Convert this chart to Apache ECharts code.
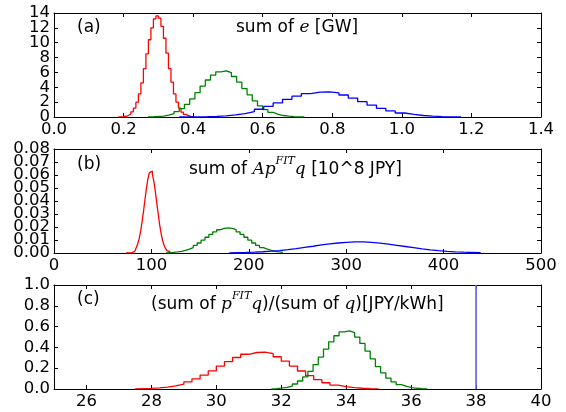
<!DOCTYPE html>
<html><head><meta charset="utf-8">
<script src="https://cdn.jsdelivr.net/npm/echarts@6/dist/echarts.min.js"></script>
<style>html,body{margin:0;padding:0;background:#fff}#c{width:566px;height:412px}</style>
</head><body><div id="c"></div>
<script>
// ---- Panel (a): sum of e [GW] ----
const redA_start = 0.185, redA_width = 0.0072;
const redA = [0.02,0.05,0.1,0.2,0.4,0.7,1.2,2.0,3.1,4.6,6.5,8.5,10.4,12.0,13.2,13.6,13.3,12.2,10.6,8.6,6.5,4.7,3.1,2.0,1.2,0.65,0.35,0.17,0.08,0.03];
const greenA_start = 0.27, greenA_width = 0.015;
const greenA = [0.03,0.07,0.13,0.25,0.44,0.73,1.14,1.7,2.43,3.28,4.16,4.98,5.65,6.08,6.2,5.98,5.45,4.7,3.83,2.98,2.17,1.5,0.99,0.62,0.36,0.2,0.11,0.05,0.02,0.01];
const blueA_start = 0.36, blueA_width = 0.027;
const blueA = [0.01,0.02,0.05,0.09,0.16,0.28,0.46,0.71,1.04,1.44,1.89,2.38,2.81,3.15,3.36,3.39,3.25,2.96,2.55,2.06,1.6,1.17,0.82,0.54,0.34,0.2,0.11,0.06,0.03,0.01];

// ---- Panel (b): sum of Ap^FIT q [10^8 JPY] ----
const redB_start = 74, redB_width = 1.5;
const redB = [0.00002,0.00006,0.00013,0.0003,0.0006,0.0013,0.0023,0.0042,0.0071,0.0112,0.017,0.0243,0.0326,0.0417,0.0503,0.0573,0.0618,0.0630,0.0605,0.0553,0.0476,0.0386,0.030,0.0217,0.0149,0.0096,0.006,0.0035,0.0019,0.001];
const greenB_start = 115, greenB_width = 4;
const greenB = [0.0003,0.0005,0.0008,0.0013,0.002,0.003,0.0042,0.0058,0.0077,0.0099,0.0121,0.0143,0.0163,0.0179,0.019,0.0193,0.019,0.0179,0.0163,0.0143,0.0121,0.0099,0.0077,0.0058,0.0042,0.003,0.002,0.0013,0.0008,0.0005];
const blueB_start = 180, blueB_width = 8.6;
const blueB = [0.00026,0.00042,0.00064,0.00096,0.0014,0.0019,0.0026,0.0034,0.0043,0.0052,0.0062,0.007,0.0077,0.0082,0.0085,0.0085,0.0081,0.0076,0.0068,0.0059,0.005,0.0041,0.0032,0.0024,0.0018,0.0013,0.0009,0.0006,0.0004,0.0002];

// ---- Panel (c): (sum of p^FIT q)/(sum of q) [JPY/kWh] ----
const redC_start = 27.5, redC_width = 0.25;
const redC = [0.003,0.006,0.011,0.018,0.030,0.046,0.069,0.098,0.133,0.174,0.22,0.264,0.303,0.334,0.351,0.354,0.34,0.31,0.268,0.22,0.173,0.128,0.09,0.06,0.038,0.023,0.013,0.007,0.004,0.002];
const greenC_start = 31.7, greenC_width = 0.16;
const greenC = [0.004,0.009,0.016,0.028,0.048,0.077,0.117,0.17,0.235,0.307,0.383,0.454,0.512,0.549,0.56,0.543,0.499,0.438,0.364,0.289,0.216,0.156,0.105,0.068,0.042,0.025,0.014,0.007,0.004,0.002];
const blueC_value = 38;

// Axis ticks
const xTicksA = [0,0.2,0.4,0.6,0.8,1.0,1.2,1.4];
const yTicksA = [0,2,4,6,8,10,12,14];
const xTicksB = [0,100,200,300,400,500];
const yTicksB = [0,0.01,0.02,0.03,0.04,0.05,0.06,0.07,0.08];
const xTicksC = [26,28,30,32,34,36,38,40];
const yTicksC = [0,0.2,0.4,0.6,0.8,1.0];

function histPoints(start, width, vals) {
  const pts = [[start, 0]];
  for (let i = 0; i < vals.length; i++) pts.push([start + i * width, vals[i]]);
  pts.push([start + vals.length * width, 0]);
  return pts;
}

const FONT = 'DejaVu Sans';
const tops = [13, 149, 285];
const grids = tops.map(t => ({left: 54, right: 25, top: t, height: 104, containLabel: false}));

function mkLab(ticks, dec) {
  return {show: true, color: '#000', fontFamily: FONT, fontSize: 16.5, margin: 4,
    showMinLabel: true, showMaxLabel: true, hideOverlap: false,
    customValues: ticks, formatter: v => (+v).toFixed(dec)};
}
function xAxes(gi, min, max, ticks, dec) {
  const common = {type: 'value', gridIndex: gi, min: min, max: max,
    splitLine: {show: false},
    axisLine: {show: true, onZero: false, lineStyle: {color: '#000', width: 1}},
    axisTick: {show: true, inside: true, length: 4, customValues: ticks, lineStyle: {color: '#000'}}};
  return [
    Object.assign({}, common, {position: 'bottom', axisLabel: mkLab(ticks, dec)}),
    Object.assign({}, common, {position: 'top', axisLabel: {show: false}})
  ];
}
// Y labels overlap in the reference; split them over two coincident left axes
// so ECharts does not drop neighbours of the min/max labels.
function yAxes(gi, min, max, ticks, dec) {
  const common = {type: 'value', gridIndex: gi, min: min, max: max,
    splitLine: {show: false},
    axisLine: {show: true, onZero: false, lineStyle: {color: '#000', width: 1}},
    axisTick: {show: true, inside: true, length: 4, customValues: ticks, lineStyle: {color: '#000'}}};
  const evenT = ticks.filter((t, i) => i % 2 === 0);
  const oddT = ticks.filter((t, i) => i % 2 === 1);
  return [
    Object.assign({}, common, {position: 'left', axisLabel: mkLab(evenT, dec)}),
    Object.assign({}, common, {position: 'right', axisLabel: {show: false}}),
    Object.assign({}, common, {position: 'left', offset: 0, axisLine: {show: false}, axisTick: {show: false},
      axisLabel: mkLab(oddT, dec)})
  ];
}

const xAxis = [].concat(
  xAxes(0, 0, 1.4, xTicksA, 1),
  xAxes(1, 0, 500, xTicksB, 0),
  xAxes(2, 25, 40, xTicksC, 0));
const yAxis = [].concat(
  yAxes(0, 0, 14, yTicksA, 0),
  yAxes(1, 0, 0.08, yTicksB, 2),
  yAxes(2, 0, 1.0, yTicksC, 1));

function hist(gi, pts, color) {
  return {type: 'line', xAxisIndex: gi * 2, yAxisIndex: gi * 3, data: pts, step: 'end',
    showSymbol: false, symbol: 'none', silent: true, animation: false,
    lineStyle: {color: color, width: 1.3}};
}
const RED = '#ff0000', GREEN = '#008000', BLUE = '#0000ff';
const series = [
  hist(0, histPoints(redA_start, redA_width, redA), RED),
  hist(0, histPoints(greenA_start, greenA_width, greenA), GREEN),
  hist(0, histPoints(blueA_start, blueA_width, blueA), BLUE),
  hist(1, histPoints(redB_start, redB_width, redB), RED),
  hist(1, histPoints(greenB_start, greenB_width, greenB), GREEN),
  hist(1, histPoints(blueB_start, blueB_width, blueB), BLUE),
  hist(2, histPoints(redC_start, redC_width, redC), RED),
  hist(2, histPoints(greenC_start, greenC_width, greenC), GREEN),
  {type: 'line', xAxisIndex: 4, yAxisIndex: 6, data: [[blueC_value, 0], [blueC_value, 1.0]],
   showSymbol: false, symbol: 'none', silent: true, animation: false,
   lineStyle: {color: '#5a5af0', width: 1.6}}
];

const rich = {
  n: {fontFamily: FONT, fontSize: 17, color: '#000', lineHeight: 28},
  m: {fontFamily: 'DejaVu Serif', fontStyle: 'italic', fontSize: 17, color: '#000', lineHeight: 28},
  s: {fontFamily: 'DejaVu Serif', fontStyle: 'italic', fontSize: 11, color: '#000', lineHeight: 14, verticalAlign: 'top'}
};
function label(x, y, text) {
  return {type: 'text', left: x, top: y - 14, silent: true,
    style: {text: text, rich: rich, fill: '#000', font: '17px "DejaVu Sans"'}};
}
const graphic = [
  label(77, 33, '{n|(a)}'),
  label(77, 170, '{n|(b)}'),
  label(77, 305, '{n|(c)}'),
  label(236, 33, '{n|sum of }{m|e}{n| [GW]}'),
  label(189, 170, '{n|sum of }{m|Ap}{s|FIT}{m|q}{n| [10^8 JPY]}'),
  label(151, 305, '{n|(sum of }{m|p}{s|FIT}{m|q}{n|)/(sum of }{m|q}{n|)[JPY/kWh]}')
];

const chart = echarts.init(document.getElementById('c'), null, {renderer: 'canvas'});
chart.setOption({animation: false, backgroundColor: '#fff', grid: grids, xAxis: xAxis, yAxis: yAxis, series: series, graphic: graphic});
</script></body></html>
